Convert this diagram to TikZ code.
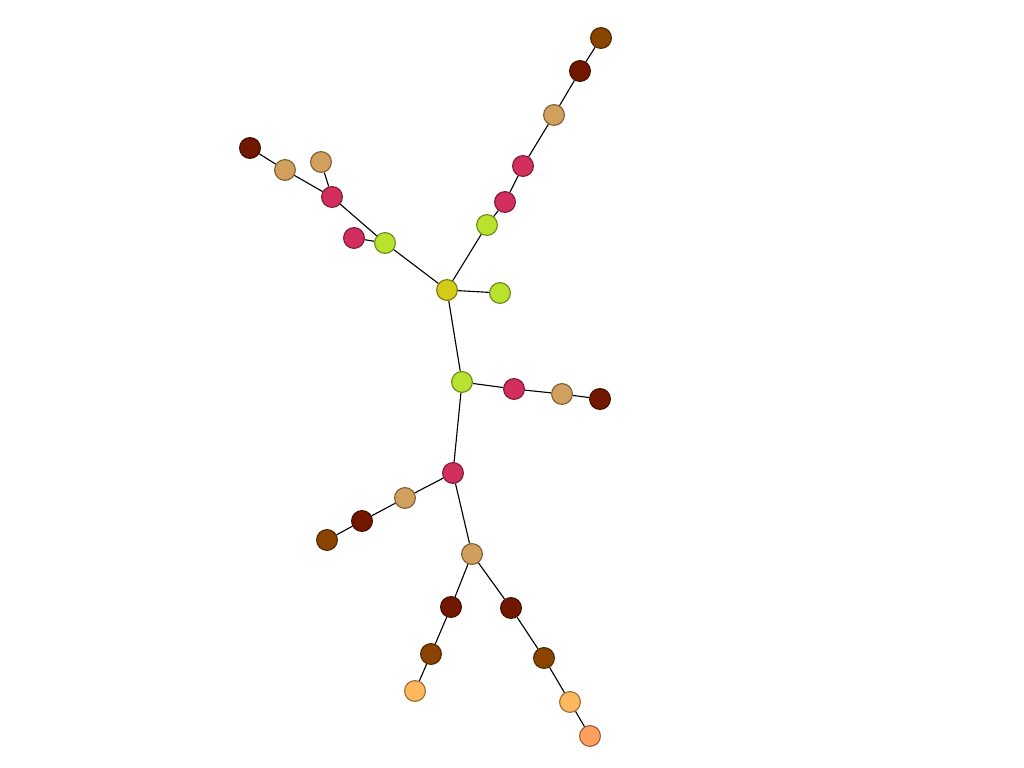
\documentclass[tikz,border=0pt]{standalone}
\usepackage{tikz}
\definecolor{cYellow}{HTML}{D2CC18}
\definecolor{cGreen}{HTML}{B8E22E}
\definecolor{cPink}{HTML}{D22E5E}
\definecolor{cTan}{HTML}{D2A05E}
\definecolor{cDarkred}{HTML}{721800}
\definecolor{cBrown}{HTML}{884400}
\definecolor{cLight}{HTML}{FFB85E}
\definecolor{cSalmon}{HTML}{FFA05E}
\begin{document}
\begin{tikzpicture}[x=0.025cm,y=-0.025cm,line width=0.8pt,
    dot/.style={circle,inner sep=0pt,minimum size=0.52cm,line width=0.8pt,fill=#1,draw=#1!60!black}]
        \useasboundingbox (0,0) rectangle (1024,768);
        \node[dot=cYellow] (Center) at (447,290) {};
        \node[dot=cGreen] (Left_green) at (385,243) {};
        \node[dot=cGreen] (Top_green) at (487,225) {};
        \node[dot=cGreen] (Right_green) at (500,293) {};
        \node[dot=cGreen] (Mid_green) at (462,382) {};
        \node[dot=cPink] (Left_pink) at (332,197) {};
        \node[dot=cPink] (Left_pink_leaf) at (354,238) {};
        \node[dot=cTan] (Left_tan) at (285,170) {};
        \node[dot=cTan] (Left_tan_leaf) at (321,162) {};
        \node[dot=cDarkred] (Left_darkred) at (250,148) {};
        \node[dot=cPink] (Top_pink) at (505,202) {};
        \node[dot=cPink] (Top_pink2) at (523,166) {};
        \node[dot=cTan] (Top_tan) at (554,115) {};
        \node[dot=cDarkred] (Top_darkred) at (580,71) {};
        \node[dot=cBrown] (Top_brown) at (601,38) {};
        \node[dot=cPink] (Mid_pink) at (514,389) {};
        \node[dot=cTan] (Mid_tan) at (562,394) {};
        \node[dot=cDarkred] (Mid_darkred) at (600,399) {};
        \node[dot=cPink] (Low_pink) at (453,473) {};
        \node[dot=cTan] (Low_tan) at (405,498) {};
        \node[dot=cDarkred] (Low_darkred) at (362,521) {};
        \node[dot=cBrown] (Low_brown) at (327,540) {};
        \node[dot=cTan] (Fork_tan) at (472,554) {};
        \node[dot=cDarkred] (Fork_left_darkred) at (451,607) {};
        \node[dot=cBrown] (Fork_left_brown) at (431,654) {};
        \node[dot=cLight] (Fork_left_light) at (415,691) {};
        \node[dot=cDarkred] (Fork_right_darkred) at (511,608) {};
        \node[dot=cBrown] (Fork_right_brown) at (544,658) {};
        \node[dot=cLight] (Fork_right_light) at (570,702) {};
        \node[dot=cSalmon] (Fork_right_salmon) at (590,736) {};
        \draw (Center) -- (Left_green);
        \draw (Center) -- (Top_green);
        \draw (Center) -- (Right_green);
        \draw (Center) -- (Mid_green);
        \draw (Left_green) -- (Left_pink);
        \draw (Left_green) -- (Left_pink_leaf);
        \draw (Left_pink) -- (Left_tan);
        \draw (Left_pink) -- (Left_tan_leaf);
        \draw (Left_tan) -- (Left_darkred);
        \draw (Top_green) -- (Top_pink);
        \draw (Top_pink) -- (Top_pink2);
        \draw (Top_pink2) -- (Top_tan);
        \draw (Top_tan) -- (Top_darkred);
        \draw (Top_darkred) -- (Top_brown);
        \draw (Mid_green) -- (Mid_pink);
        \draw (Mid_pink) -- (Mid_tan);
        \draw (Mid_tan) -- (Mid_darkred);
        \draw (Mid_green) -- (Low_pink);
        \draw (Low_pink) -- (Low_tan);
        \draw (Low_tan) -- (Low_darkred);
        \draw (Low_darkred) -- (Low_brown);
        \draw (Low_pink) -- (Fork_tan);
        \draw (Fork_tan) -- (Fork_left_darkred);
        \draw (Fork_left_darkred) -- (Fork_left_brown);
        \draw (Fork_left_brown) -- (Fork_left_light);
        \draw (Fork_tan) -- (Fork_right_darkred);
        \draw (Fork_right_darkred) -- (Fork_right_brown);
        \draw (Fork_right_brown) -- (Fork_right_light);
        \draw (Fork_right_light) -- (Fork_right_salmon);
    \end{tikzpicture}
\end{document}
